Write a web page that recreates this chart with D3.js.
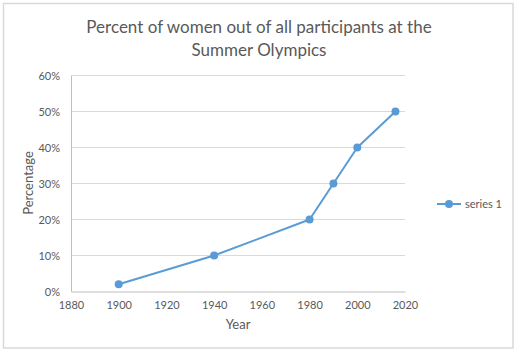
<!DOCTYPE html>
<html lang="en">
<head>
    <meta charset="UTF-8">
    <script src="https://cdn.jsdelivr.net/npm/d3@7"></script>
    <title>Women at the Summer Olympics</title>
    <style>
        * { margin: 0; padding: 0; box-sizing: border-box; }
        body { background: white; }
        svg { display: block; font-family: Lato, "Open Sans", sans-serif; }
    </style>
</head>
<body>
    <svg width="518" height="354"></svg>
    <script>
        let years = [1900, 1940, 1980, 1990, 2000, 2016]
        let percents = [0.02, 0.10, 0.20, 0.30, 0.40, 0.50]
        let xTicks = [1880, 1900, 1920, 1940, 1960, 1980, 2000, 2020]
        let yTicks = [0, 0.1, 0.2, 0.3, 0.4, 0.5, 0.6]
        let seriesName = 'series 1'

        let data = years.map((y, i) => ({ year: y, value: percents[i] }))

        let svg = d3.select('svg')
        let blue = '#5b9bd5'
        let textColor = '#595959'

        // chart frame
        svg.append('rect')
            .attr('x', 3.5).attr('y', 3.5)
            .attr('width', 509.5).attr('height', 344.5)
            .attr('fill', 'white')
            .attr('stroke', '#d9d9d9')
            .attr('stroke-width', 1.5)

        let xScale = d3.scaleLinear().domain([1880, 2020]).range([71, 405])
        let yScale = d3.scaleLinear().domain([0, 0.6]).range([291.5, 75.5])

        // gridlines
        svg.append('g')
            .selectAll('line')
            .data(yTicks.filter(d => d > 0))
            .join('line')
            .attr('x1', 71).attr('x2', 405)
            .attr('y1', d => yScale(d)).attr('y2', d => yScale(d))
            .attr('stroke', '#d9d9d9')
            .attr('stroke-width', 1)

        let xAxis = d3.axisBottom(xScale).tickValues(xTicks).tickFormat(d3.format('d')).tickSize(0).tickPadding(10)
        let yAxis = d3.axisLeft(yScale).tickValues(yTicks).tickFormat(d3.format('.0%')).tickSize(0).tickPadding(11)

        let gx = svg.append('g')
            .attr('transform', `translate(0, ${yScale(0)})`)
            .call(xAxis)
        gx.select('.domain').attr('stroke', '#bfbfbf')

        let gy = svg.append('g')
            .attr('transform', 'translate(71, 0)')
            .call(yAxis)
        gy.select('.domain').attr('stroke', '#bfbfbf')

        svg.selectAll('.tick text')
            .attr('fill', textColor)
            .style('font-size', '11px')
            .style('font-family', 'Lato, "Open Sans", sans-serif')

        // series
        let line = d3.line()
            .x(d => xScale(d.year))
            .y(d => yScale(d.value))

        svg.append('path')
            .datum(data)
            .attr('d', line)
            .attr('fill', 'none')
            .attr('stroke', blue)
            .attr('stroke-width', 2)
            .attr('stroke-linejoin', 'round')

        svg.selectAll('circle.pt')
            .data(data)
            .join('circle')
            .attr('class', 'pt')
            .attr('cx', d => xScale(d.year))
            .attr('cy', d => yScale(d.value))
            .attr('r', 4)
            .attr('fill', blue)

        // titles
        svg.append('text')
            .attr('x', 259).attr('y', 33)
            .attr('text-anchor', 'middle')
            .attr('fill', textColor)
            .style('font-size', '17px')
            .text('Percent of women out of all participants at the')

        svg.append('text')
            .attr('x', 259).attr('y', 56)
            .attr('text-anchor', 'middle')
            .attr('fill', textColor)
            .style('font-size', '17px')
            .text('Summer Olympics')

        svg.append('text')
            .attr('x', 238).attr('y', 329)
            .attr('text-anchor', 'middle')
            .attr('fill', textColor)
            .style('font-size', '13px')
            .text('Year')

        svg.append('text')
            .attr('transform', 'translate(33, 183) rotate(-90)')
            .attr('text-anchor', 'middle')
            .attr('fill', textColor)
            .style('font-size', '13px')
            .text('Percentage')

        // legend
        let legend = svg.append('g').attr('transform', 'translate(437, 204)')
        legend.append('line')
            .attr('x1', 0).attr('x2', 24)
            .attr('stroke', blue).attr('stroke-width', 2)
        legend.append('circle')
            .attr('cx', 12).attr('r', 4).attr('fill', blue)
        legend.append('text')
            .attr('x', 28).attr('dy', '0.35em')
            .attr('fill', textColor)
            .style('font-size', '11px')
            .text(seriesName)
    </script>
</body>
</html>
